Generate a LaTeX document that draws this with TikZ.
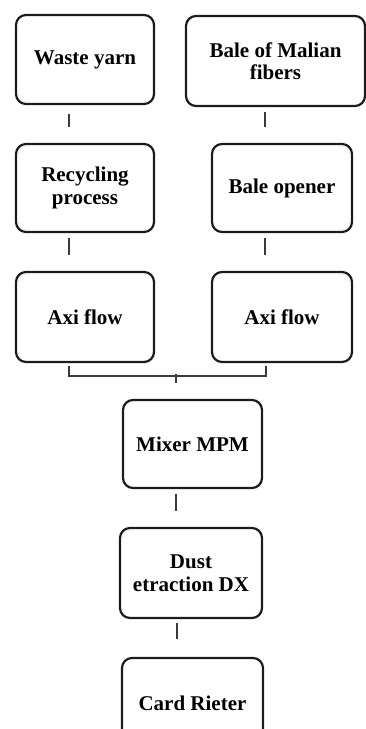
\documentclass[tikz,border=0pt]{standalone}
\usepackage{fontspec}
\setmainfont{Liberation Serif}
\definecolor{boxline}{HTML}{1C1C1C}
\definecolor{connline}{HTML}{3A3A3A}
\begin{document}
\begin{tikzpicture}[x=1pt,y=-1pt,
  procbox/.style={draw=boxline, line width=2.2pt, rounded corners=10pt, rectangle,
    align=center, inner sep=0pt, font=\bfseries\fontsize{21}{22.5}\selectfont},
  conn/.style={draw=connline, line width=1.6pt}]
\useasboundingbox (0,0) rectangle (366,729);
\begin{scope}
\clip (0,0) rectangle (366,729);
\node[procbox, minimum width=138pt, minimum height=89pt] (wy) at (85,59.5) {Waste yarn};
\node[procbox, minimum width=179pt, minimum height=90pt] (bale) at (275.5,61) {Bale of Malian\\fibers};
\node[procbox, minimum width=138pt, minimum height=88pt] (rec) at (85,188) {Recycling\\process};
\node[procbox, minimum width=140pt, minimum height=88pt] (bo) at (282,188) {Bale opener};
\node[procbox, minimum width=138pt, minimum height=90pt] (ax1) at (85,317) {Axi flow};
\node[procbox, minimum width=140pt, minimum height=90pt] (ax2) at (282,317) {Axi flow};
\node[procbox, minimum width=139pt, minimum height=88pt] (mix) at (192.5,444) {Mixer MPM};
\node[procbox, minimum width=142pt, minimum height=90pt] (dust) at (191,573) {Dust\\etraction DX};
\node[procbox, minimum width=141pt, minimum height=90pt] (card) at (192.5,703) {Card Rieter};
\end{scope}
% connectors
\draw[conn] ([xshift=-16pt,yshift=-9pt]wy.south) -- ([xshift=-16pt,yshift=16pt]rec.north);
\draw[conn] ([xshift=-17pt,yshift=31pt]bo.north) -- ([xshift=-17pt,yshift=16pt]bo.north);
\draw[conn] ([xshift=-16pt,yshift=-5pt]rec.south) -- ([xshift=-16pt,yshift=16pt]ax1.north);
\draw[conn] ([xshift=-17pt,yshift=-5pt]bo.south) -- ([xshift=-17pt,yshift=16pt]ax2.north);
\draw[conn] ([xshift=-16pt,yshift=-3pt]ax1.south) |- ([xshift=-16pt,yshift=-13pt]ax2.south) -- ([xshift=-16pt,yshift=-3pt]ax2.south);
\draw[conn] ([xshift=-16.5pt,yshift=25pt]mix.north) -- ([xshift=-16.5pt,yshift=16pt]mix.north);
\draw[conn] ([xshift=-16.5pt,yshift=-5pt]mix.south) -- ([xshift=-15pt,yshift=16pt]dust.north);
\draw[conn] ([xshift=-14pt,yshift=-4pt]dust.south) -- ([xshift=-15.5pt,yshift=18pt]card.north);
\end{tikzpicture}
\end{document}
